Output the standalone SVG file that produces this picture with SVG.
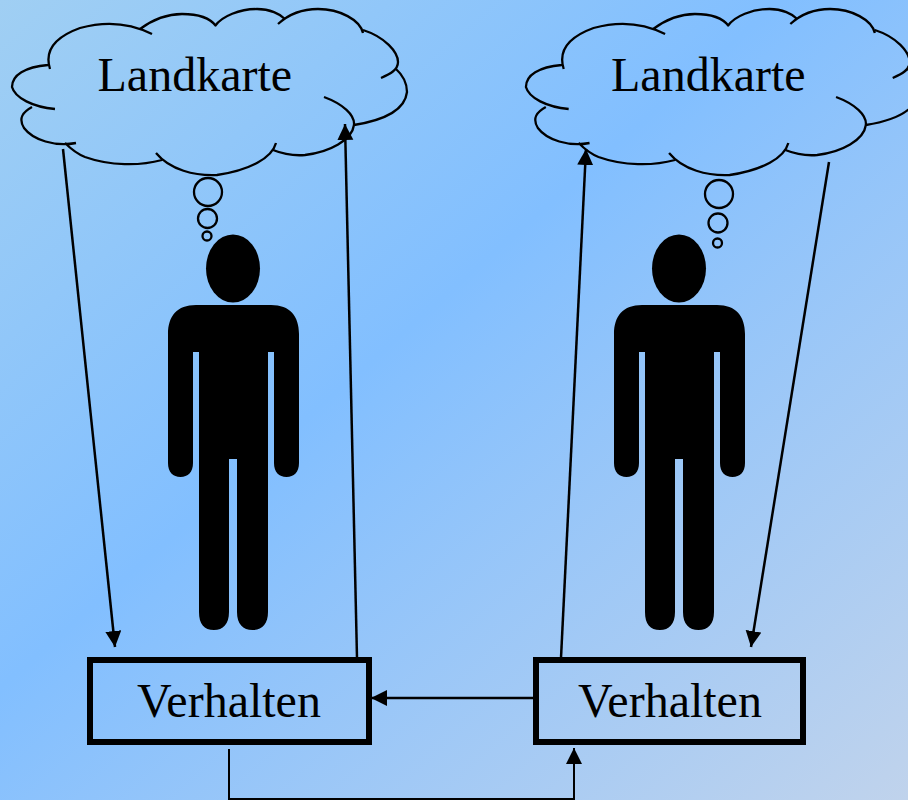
<svg xmlns="http://www.w3.org/2000/svg" width="908" height="800" viewBox="0 0 908 800">
<style>
.cloud{fill:none;stroke:#000;stroke-width:2.300;stroke-linecap:butt}
.bub{fill:none;stroke:#000;stroke-width:2.300}
.box{fill:none;stroke:#000;stroke-width:6}
.conn{fill:none;stroke:#000;stroke-width:2.500}
.thin{stroke-width:2}
text{font-family:"Liberation Serif","Times New Roman",serif;font-size:48px;fill:#000}
</style>
<defs>
<linearGradient id="bg" x1="0" y1="0" x2="1" y2="1">
<stop offset="0" stop-color="#a0cff3"/>
<stop offset="0.43" stop-color="#82bfff"/>
<stop offset="1" stop-color="#c0d3ec"/>
</linearGradient>
<marker id="arr" markerUnits="userSpaceOnUse" markerWidth="17" markerHeight="17" refX="16" refY="8" orient="auto">
<path d="M0 0L16 8L0 16Z" fill="#000"/>
</marker>
<path id="cl" d="M50 69C44 50 55 37 80 28C105 21 130 23 152 34M140 29C155 18 170 14 182 14C197 14 210 18 216 26M215 26C222 16 240 9 257 9C270 9 280 14 285 19M278 24C290 13 305 9 318 9C340 9 360 20 363 33M363 30C385 37 398 52 398 62C398 70 390 74 381 78M395 68C404 76 407 85 407 92C405 110 385 120 354 125M324 97C343 104 355 115 354 125C352 140 330 152 305 155C293 156 283 154 273 150M276 143C272 158 250 170 217 175C195 176 170 170 156 153M162 160C140 166 110 166 85 157C75 153 70 148 65 143M76 143C55 147 33 140 24 128C18 118 23 112 32 107M55 109C33 107 15 98 12 87C12 75 25 67 48 65"/>
<g id="man">
<ellipse cx="233" cy="268.500" rx="27" ry="34"/>
<path d="M196 305H271C290 305 299 316 299 334V463C299 472 294 477 286.500 477C279 477 274 472 274 463V352H268V612C268 624 262 630 252.500 630C243 630 237 624 237 612V459H229V612C229 624 223 630 214 630C204 630 199 624 199 612V352H193V463C193 472 188 477 180.500 477C173 477 168 472 168 463V334C168 316 177 305 196 305Z"/>
</g>
</defs>
<rect id="background" width="908" height="800" fill="url(#bg)"/>
<g id="map-left">
<use href="#cl" class="cloud"/>
<text x="97.500" y="90.500">Landkarte</text>
</g>
<g id="map-right">
<use href="#cl" class="cloud" transform="translate(514 0) scale(.994 1)"/>
<text x="611" y="90.500">Landkarte</text>
</g>
<g id="thought-left">
<circle class="bub" cx="208" cy="192" r="14"/>
<circle class="bub" cx="207.500" cy="218.500" r="9.500"/>
<circle class="bub" cx="207" cy="236" r="4.500"/>
</g>
<g id="thought-right">
<circle class="bub" cx="719" cy="194" r="14"/>
<circle class="bub" cx="718" cy="223" r="9.500"/>
<circle class="bub" cx="717.500" cy="243" r="4.500"/>
</g>
<g id="person-left"><use href="#man"/></g>
<g id="person-right"><use href="#man" x="446"/></g>
<g id="behavior-left">
<rect class="box" x="90" y="660" width="279" height="82"/>
<text x="137" y="716.500">Verhalten</text>
</g>
<g id="behavior-right">
<rect class="box" x="536" y="660" width="267" height="82"/>
<text x="578" y="716.500">Verhalten</text>
</g>
<g id="connectors">
<path class="conn" marker-end="url(#arr)" d="M63 149L115 647"/>
<path class="conn" marker-end="url(#arr)" d="M357 658L345 124"/>
<path class="conn" marker-end="url(#arr)" d="M561 658L586 149"/>
<path class="conn" marker-end="url(#arr)" d="M829 162L751 647"/>
<path class="conn" marker-end="url(#arr)" d="M534 698H371"/>
<path class="conn thin" marker-end="url(#arr)" d="M229 749V799H574V748"/>
</g>
</svg>
